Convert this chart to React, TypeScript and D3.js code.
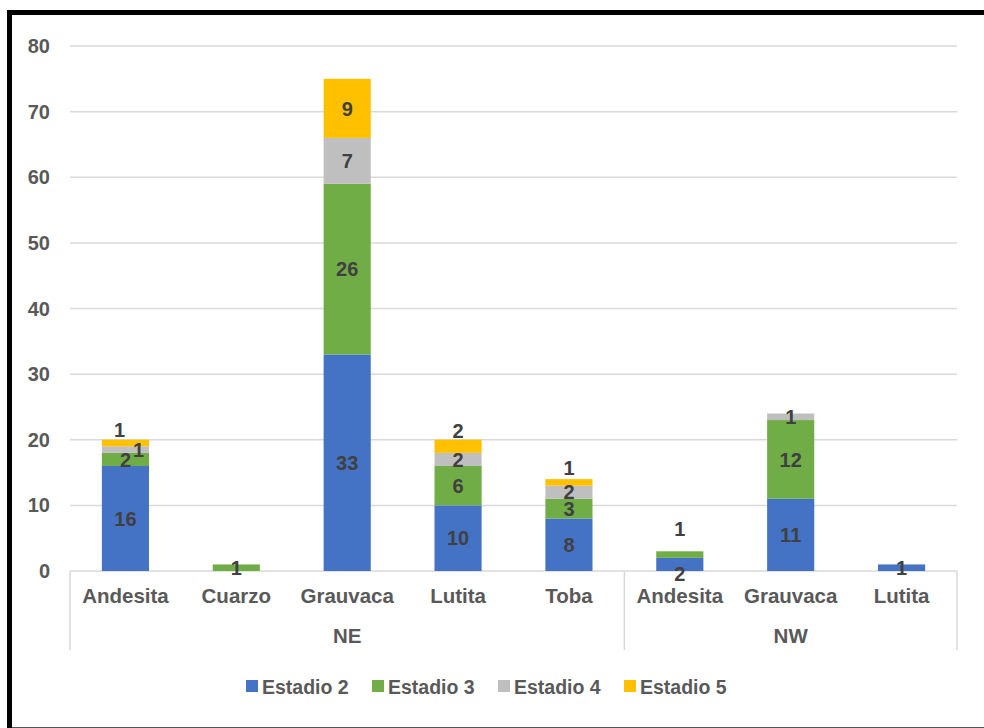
import React from "react";
import * as d3 from "d3";

// Rock types by sector, stacked by weathering stage
const groups = ["NE", "NE", "NE", "NE", "NE", "NW", "NW", "NW"];
const rocks = ["Andesita", "Cuarzo", "Grauvaca", "Lutita", "Toba", "Andesita", "Grauvaca", "Lutita"];
const seriesNames = ["Estadio 2", "Estadio 3", "Estadio 4", "Estadio 5"];
const estadio2 = [16, 0, 33, 10, 8, 2, 11, 1];
const estadio3 = [2, 1, 26, 6, 3, 1, 12, 0];
const estadio4 = [1, 0, 7, 2, 2, 0, 1, 0];
const estadio5 = [1, 0, 9, 2, 1, 0, 0, 0];
const yTicks = [0, 10, 20, 30, 40, 50, 60, 70, 80];

const colors = ["#4472C4", "#70AD47", "#BFBFBF", "#FFC000"];

// Hand adjustments for labels that would collide inside thin segments
const labelNudges: { cat: number; ser: number; dx: number; dy: number }[] = [
  { cat: 0, ser: 2, dx: 13, dy: 0 },
  { cat: 0, ser: 3, dx: -6, dy: -13 },
  { cat: 3, ser: 3, dx: 0, dy: -16 },
  { cat: 4, ser: 3, dx: 0, dy: -15 },
  { cat: 5, ser: 1, dx: 0, dy: -26 },
  { cat: 5, ser: 0, dx: 0, dy: 9 },
];

const W = 984;
const H = 728;
const left = 70;
const right = 957;
const top = 46;
const bottom = 571;
const font = "'Liberation Sans', Arial, sans-serif";
const fs = 20;

export default function App() {
  const seriesData = [estadio2, estadio3, estadio4, estadio5];
  const rows = rocks.map((r, i) => {
    const o: Record<string, number> = { idx: i };
    seriesNames.forEach((s, j) => (o[s] = seriesData[j][i]));
    return o;
  });
  const stack = d3.stack<Record<string, number>>().keys(seriesNames)(rows);

  const x = d3.scaleBand<number>().domain(d3.range(rocks.length)).range([left, right]).paddingInner(0.575).paddingOuter(0.2875);
  const y = d3.scaleLinear().domain([0, 80]).range([bottom, top]);
  const step = x.step();

  // group spans
  const groupSpans: { name: string; start: number; end: number }[] = [];
  groups.forEach((g, i) => {
    const last = groupSpans[groupSpans.length - 1];
    if (last && last.name === g) last.end = i;
    else groupSpans.push({ name: g, start: i, end: i });
  });
  const bandLeft = (i: number) => left + i * step;

  return (
    <svg width={W} height={H} style={{ position: "absolute", left: 0, top: 0, background: "#fff" }} fontFamily={font}>
      <rect x={0} y={0} width={W} height={H} fill="#fff" />
      {/* gridlines */}
      {yTicks.map((t) => (
        <line key={t} x1={left} x2={right} y1={y(t)} y2={y(t)} stroke="#d9d9d9" strokeWidth={1.5} />
      ))}
      {yTicks.map((t) => (
        <text key={"t" + t} x={50} y={y(t)} dy="0.35em" textAnchor="end" fontSize={fs} fontWeight="bold" fill="#595959">
          {t}
        </text>
      ))}
      {/* bars */}
      {stack.map((s, j) =>
        s.map((d, i) =>
          d[1] - d[0] > 0 ? (
            <rect key={j + "-" + i} x={x(i)} y={y(d[1])} width={x.bandwidth()} height={y(d[0]) - y(d[1])} fill={colors[j]} />
          ) : null
        )
      )}
      {/* data labels */}
      {stack.map((s, j) =>
        s.map((d, i) => {
          const v = d[1] - d[0];
          if (v <= 0) return null;
          const n = labelNudges.find((k) => k.cat === i && k.ser === j);
          const cx = (x(i) as number) + x.bandwidth() / 2 + (n ? n.dx : 0);
          const cy = (y(d[0]) + y(d[1])) / 2 + (n ? n.dy : 0);
          return (
            <text key={"l" + j + "-" + i} x={cx} y={cy} dy="0.36em" textAnchor="middle" fontSize={fs} fontWeight="bold" fill="#404040">
              {v}
            </text>
          );
        })
      )}
      {/* category axis */}
      {rocks.map((r, i) => (
        <text key={"c" + i} x={(x(i) as number) + x.bandwidth() / 2} y={596} dy="0.35em" textAnchor="middle" fontSize={20.5} fontWeight="bold" fill="#595959">
          {r}
        </text>
      ))}
      {groupSpans.map((g) => (
        <text key={"g" + g.name} x={(bandLeft(g.start) + bandLeft(g.end + 1)) / 2} y={636} dy="0.35em" textAnchor="middle" fontSize={20.5} fontWeight="bold" fill="#595959">
          {g.name}
        </text>
      ))}
      {[0, ...groupSpans.map((g) => g.end + 1)].map((b) => (
        <line key={"s" + b} x1={bandLeft(b)} x2={bandLeft(b)} y1={bottom} y2={650} stroke="#d9d9d9" strokeWidth={1.5} />
      ))}
      {/* legend */}
      {seriesNames.map((s, j) => {
        const lx = [246, 372, 498, 624][j];
        return (
          <g key={"lg" + s}>
            <rect x={lx} y={680} width={12} height={12} fill={colors[j]} />
            <text x={lx + 16} y={694} fontSize={19.5} fontWeight="bold" fill="#595959">
              {s}
            </text>
          </g>
        );
      })}
      {/* frame */}
      <rect x={9.5} y={12.5} width={990} height={730} fill="none" stroke="#000" strokeWidth={5} />
      <line x1={12} x2={W} y1={727.5} y2={727.5} stroke="#555" strokeWidth={1} />
    </svg>
  );
}
